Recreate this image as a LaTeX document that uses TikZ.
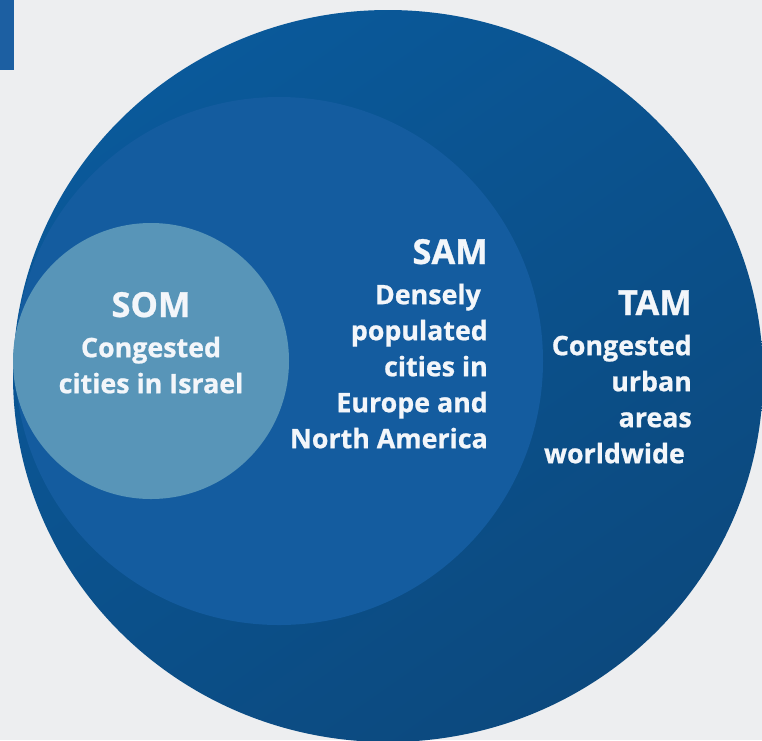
\documentclass[tikz,border=0pt]{standalone}
\usepackage{fontspec}
\setmainfont{Open Sans}[BoldFeatures={FakeBold=0.8}]
\definecolor{bgc}{RGB}{237,238,240}
\definecolor{tabc}{RGB}{28,95,162}
\definecolor{tamA}{RGB}{10,89,154}
\definecolor{tamB}{RGB}{12,73,126}
\definecolor{samc}{RGB}{20,92,159}
\definecolor{somc}{RGB}{88,149,184}
\definecolor{txtc}{RGB}{243,246,250}
\tikzset{
  head/.style={font=\fontsize{34.5}{36}\selectfont\bfseries, text=txtc, inner sep=0pt},
  body/.style={font=\fontsize{26.8}{36}\selectfont\bfseries, text=txtc, inner sep=0pt},
}
\begin{document}
\begin{tikzpicture}[x=1pt,y=-1pt]
\useasboundingbox (0,0) rectangle (762,740);
\fill[bgc] (0,0) rectangle (762,740);
\clip (0,0) rectangle (762,740);
\fill[tabc] (0,0) rectangle (14,70);
\shade[top color=tamA, bottom color=tamB, shading angle=35] (388,376) ellipse [x radius=375, y radius=366];
\fill[samc] (279,361) circle [radius=264];
\fill[somc] (151,361) circle [radius=138];
% SOM
\node[head, anchor=base] (somh) at (151,317) {SOM};
\node[body, align=center, anchor=north] (somb) at (151,336.6) {Congested\\cities in Israel};
% SAM
\node[head, anchor=base east] (samh) at (488,264) {SAM};
\node[body, align=right, anchor=north east] (samb) at (488,283.6) {Densely\kern0.26em\\populated\\cities in\\Europe and\\North America};
% TAM
\node[head, anchor=base east] (tamh) at (692,315) {TAM};
\node[body, align=right, anchor=north east] (tamb) at (692,334.6) {Congested\\urban\\areas\\worldwide\kern0.26em};
\end{tikzpicture}
\end{document}
